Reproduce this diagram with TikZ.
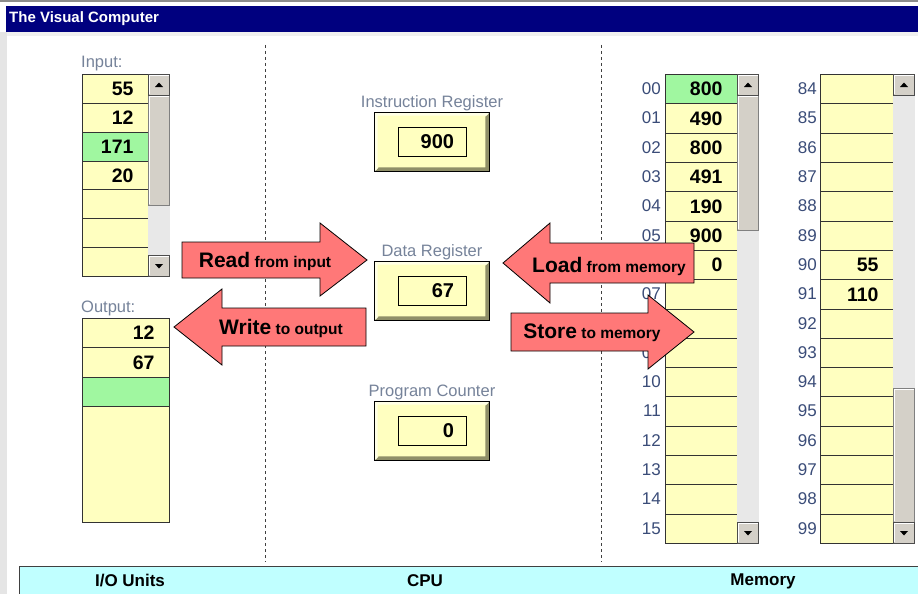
\documentclass[tikz,border=0pt]{standalone}
\usepackage{fontspec}
\setmainfont{Liberation Sans}
\definecolor{yel}{HTML}{FFFFC0}
\definecolor{grn}{HTML}{A0F7A0}
\definecolor{navyc}{HTML}{00007F}
\definecolor{cyanbar}{HTML}{C0FFFF}
\definecolor{arrowred}{HTML}{FF7878}
\definecolor{lblc}{HTML}{76839A}
\definecolor{addrc}{HTML}{3A4C78}
\definecolor{btn}{HTML}{D4D0C8}
\definecolor{trk}{HTML}{E8E8E8}
\definecolor{bevel}{HTML}{8F8F68}
\begin{document}
\begin{tikzpicture}[x=1pt,y=-1pt,
  cell/.style={draw=black!80, line width=1pt, fill=yel, anchor=north west, inner xsep=15pt, inner ysep=0pt, align=right, font=\bfseries\fontsize{19.5}{20}\selectfont},
  addr/.style={anchor=east, text=addrc, font=\fontsize{17}{18}\selectfont, inner sep=0pt},
  lbl/.style={text=lblc, font=\fontsize{16.5}{18}\selectfont, inner sep=0pt},
  regout/.style={draw=black, line width=0.9pt, fill=yel, minimum width=114, minimum height=58, inner sep=0pt},
  regin/.style={draw=black, line width=0.9pt, minimum width=68, minimum height=29, text width=44, inner xsep=12pt, inner ysep=0pt, align=right, font=\bfseries\fontsize{20}{20}\selectfont},
  bigarrow/.style={draw=black, line width=0.8pt, fill=arrowred, line join=miter},
  arrowtxt/.style={inner sep=0pt, font=\bfseries\fontsize{15.5}{18}\selectfont},
  sepline/.style={dashed, dash pattern=on 3pt off 3pt, draw=black!75, line width=1pt},
  barlbl/.style={font=\bfseries\fontsize{17}{18}\selectfont, inner sep=0pt},
  btnbox/.style={fill=btn, draw=black!70, line width=0.6pt},
  thumb/.style={fill=btn, draw=black!50, line width=0.6pt},
  track/.style={fill=trk, draw=none}
]
\useasboundingbox (0,0) rectangle (918,594);
\fill[white] (0,0) rectangle (918,594);
\fill[black!45] (0,0) rectangle (918,2);
\fill[black!10] (0,32) rectangle (7,594);
\fill[black!6] (7,32) rectangle (918,36);
\fill[navyc] (6,6) rectangle (918,32);
\node[anchor=west, text=white, inner sep=0pt, font=\bfseries\fontsize{15}{16}\selectfont] (title) at (9,19) {The Visual Computer};

% dashed separators
\coordinate (s1a) at (265,45); \coordinate (s1b) at (265,562);
\coordinate (s2a) at (601,45); \coordinate (s2b) at (601,562);
\draw[sepline] (s1a) -- (s1b);
\draw[sepline] (s2a) -- (s2b);

% scrollbar macros
\newcommand\myUpBtn[2]{%
  \draw[btnbox] (#1,#2) rectangle ++(21,21);
  \draw[white, line width=0.8pt] (#1+1,#2+20) -- (#1+1,#2+1) -- (#1+20,#2+1);
  \fill[black] (#1+6.5,#2+13) -- (#1+14.5,#2+13) -- (#1+10.5,#2+8.5) -- cycle;}
\newcommand\myDownBtn[2]{%
  \draw[btnbox] (#1,#2) rectangle ++(21,21);
  \draw[white, line width=0.8pt] (#1+1,#2+20) -- (#1+1,#2+1) -- (#1+20,#2+1);
  \fill[black] (#1+6.5,#2+9) -- (#1+14.5,#2+9) -- (#1+10.5,#2+13.5) -- cycle;}
\newcommand\myThumb[3]{%
  \draw[thumb] (#1,#2) rectangle (#1+21,#3);
  \draw[white, line width=0.8pt] (#1+1,#3-1) -- (#1+1,#2+1) -- (#1+20,#2+1);}

% ---------- Input ----------
\node[lbl, anchor=south west] (inlbl) at (81,71) {Input:};
\foreach \i in {0,...,6} {
  \node[cell, minimum width=66, minimum height=28.86, text width=36] (in\i) at (82,{74+28.86*\i}) {};
}
\node[cell, minimum width=66, minimum height=28.86, text width=36] (in0) at (82,74) {55};
\node[cell, minimum width=66, minimum height=28.86, text width=36] (in1) at (82,102.86) {12};
\node[cell, fill=grn, minimum width=66, minimum height=28.86, text width=36] (in2) at (82,131.72) {171};
\node[cell, minimum width=66, minimum height=28.86, text width=36] (in3) at (82,160.58) {20};
\fill[track] (148,95) rectangle (170,255);
\myThumb{148.5}{95}{205}
\myUpBtn{148.5}{74}
\myDownBtn{148.5}{255}

% ---------- Output ----------
\node[lbl, anchor=south west] (outlbl) at (81,316) {Output:};
\node[cell, minimum width=87, minimum height=29.3, text width=57] (out0) at (82,318) {12};
\node[cell, minimum width=87, minimum height=29.3, text width=57] (out1) at (82,347.3) {67};
\node[cell, fill=grn, minimum width=87, minimum height=29.3, text width=57] (out2) at (82,376.6) {};
\node[cell, minimum width=87, minimum height=116, text width=57] (out3) at (82,405.9) {};

% ---------- CPU registers ----------
\newcommand\myReg[4]{%
  \node[regout] (#1o) at (432,#2) {};
  \fill[bevel] (#1o.north east) -- (#1o.south east) -- (#1o.south west) -- ++(4,-4) -- ([xshift=-4pt,yshift=4pt]#1o.south east) -- ([xshift=-4pt,yshift=-4pt]#1o.north east) -- cycle;
  \fill[white!60!yel] (#1o.north west) -- (#1o.south west) -- ++(3,-3) -- ([xshift=3pt,yshift=-3pt]#1o.north west) -- ([xshift=-3pt,yshift=-3pt]#1o.north east) -- (#1o.north east) -- cycle;
  \draw[black, line width=0.9pt] (#1o.north west) rectangle (#1o.south east);
  \node[regin] (#1i) at (432,#2) {#4};
  \node[lbl, anchor=south] (#1l) at (432,{#2-31}) {#3};}
\myReg{ir}{142}{Instruction Register}{900}
\myReg{dr}{291}{Data Register}{67}
\myReg{pc}{431}{Program Counter}{0}

% ---------- Memory column 1 ----------
\foreach \i in {0,...,15} {
  \node[cell, minimum width=72, minimum height=29.3125, text width=42] (m\i) at (665,{74+29.3125*\i}) {};
}
\foreach \i in {0,1,2,3,4,5,7,9,10,11,12,13,14,15} {
  \node[addr] (a\i) at (661,{88.66+29.3125*\i}) {\ifnum\i<10 0\fi\i};
}
\node[cell, fill=grn, minimum width=72, minimum height=29.3125, text width=42] (m0) at (665,74) {800};
\node[cell, minimum width=72, minimum height=29.3125, text width=42] (m1) at (665,103.3125) {490};
\node[cell, minimum width=72, minimum height=29.3125, text width=42] (m2) at (665,132.625) {800};
\node[cell, minimum width=72, minimum height=29.3125, text width=42] (m3) at (665,161.9375) {491};
\node[cell, minimum width=72, minimum height=29.3125, text width=42] (m4) at (665,191.25) {190};
\node[cell, minimum width=72, minimum height=29.3125, text width=42] (m5) at (665,220.5625) {900};
\node[cell, minimum width=72, minimum height=29.3125, text width=42] (m6) at (665,249.875) {0};
\fill[track] (737,95) rectangle (759,522);
\myThumb{737.5}{95}{230}
\myUpBtn{737.5}{74}
\myDownBtn{737.5}{522}

% ---------- Memory column 2 ----------
\foreach \i [evaluate=\i as \n using int(84+\i)] in {0,...,15} {
  \node[cell, minimum width=73, minimum height=29.3125, text width=43] (n\i) at (820,{74+29.3125*\i}) {};
  \node[addr] (b\i) at (817,{88.66+29.3125*\i}) {\n};
}
\node[cell, minimum width=73, minimum height=29.3125, text width=43] (n6) at (820,249.875) {55};
\node[cell, minimum width=73, minimum height=29.3125, text width=43] (n7) at (820,279.1875) {110};
\fill[track] (893,95) rectangle (915,522);
\myThumb{893.5}{388}{522}
\myUpBtn{893.5}{74}
\myDownBtn{893.5}{522}

% ---------- Big arrows ----------
\draw[bigarrow] (182,242) -- (320,242) -- (320,223) -- (367,260) -- (320,296) -- (320,278) -- (182,278) -- cycle;
\node[arrowtxt] (readt) at (265,261) {\fontsize{21}{22}\selectfont Read\fontsize{15.5}{18}\selectfont\ from input};

\draw[bigarrow] (366,308) -- (222,308) -- (222,289) -- (174,327) -- (222,365) -- (222,346) -- (366,346) -- cycle;
\node[arrowtxt] (writet) at (281,328) {\fontsize{21}{22}\selectfont Write\fontsize{15.5}{18}\selectfont\ to output};

\draw[bigarrow] (694,243) -- (550,243) -- (550,223) -- (503,263) -- (550,303) -- (550,283) -- (694,283) -- cycle;
\node[arrowtxt] (loadt) at (609,266) {\fontsize{21}{22}\selectfont Load\fontsize{15.5}{18}\selectfont\ from memory};

\draw[bigarrow] (511,313) -- (648,313) -- (648,295) -- (694,332) -- (648,369) -- (648,351) -- (511,351) -- cycle;
\node[arrowtxt] (storet) at (592,333) {\fontsize{21}{22}\selectfont Store\fontsize{15.5}{18}\selectfont\ to memory};

% ---------- Bottom bar ----------
\fill[cyanbar] (19,566) rectangle (918,594);
\draw[black!75, line width=1pt] (19,594) -- (19,566) -- (918,566);
\node[barlbl] (iou) at (130,581) {I/O Units};
\node[barlbl] (cpu) at (425,581) {CPU};
\node[barlbl] (mem) at (763,581) {Memory};
\end{tikzpicture}
\end{document}
